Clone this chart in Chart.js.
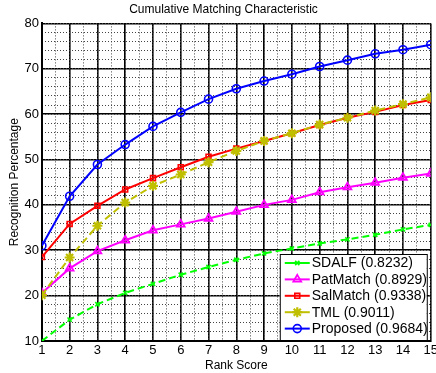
<!DOCTYPE html>
<html>
<head>
<meta charset="utf-8">
<script src="https://cdn.jsdelivr.net/npm/chart.js@4.4.1/dist/chart.umd.min.js"></script>
<style>
  html, body { margin: 0; padding: 0; background: #fff; overflow: hidden; }
  #wrap { width: 440px; height: 373px; position: relative; }
</style>
</head>
<body>
<div id="wrap"><canvas id="cmc"></canvas></div>
<script>
// Rank positions and recognition rates (%) per method
const ranks = [1, 2, 3, 4, 5, 6, 7, 8, 9, 10, 11, 12, 13, 14, 15];
const sdalf    = [10.0, 14.7, 18.1, 20.6, 22.6, 24.6, 26.3, 27.9, 29.3, 30.4, 31.5, 32.4, 33.4, 34.6, 35.6];
const patMatch = [20.6, 26.0, 29.8, 32.2, 34.4, 35.7, 37.0, 38.5, 40.0, 41.1, 42.8, 43.9, 44.9, 46.0, 46.9];
const salMatch = [28.5, 35.8, 39.8, 43.4, 45.9, 48.3, 50.6, 52.4, 54.1, 55.8, 57.6, 59.2, 60.5, 62.0, 63.1];
const tml      = [20.1, 28.4, 35.4, 40.5, 44.2, 46.7, 49.4, 51.9, 54.1, 55.8, 57.7, 59.2, 60.8, 62.2, 63.7];
const proposed = [31.0, 41.9, 48.9, 53.3, 57.3, 60.4, 63.3, 65.6, 67.3, 68.8, 70.5, 71.9, 73.3, 74.2, 75.3];
const seriesNames = ['SDALF (0.8232)', 'PatMatch (0.8929)', 'SalMatch (0.9338)', 'TML (0.9011)', 'Proposed (0.9684)'];

const FONT = "'Liberation Sans', Arial, Helvetica, sans-serif";

function pts(values) {
  return values.map((v, i) => ({ x: ranks[i], y: v }));
}

function series(label, values, color, style, radius, dash, order, markerWidth) {
  return {
    label: label,
    data: pts(values),
    borderColor: color,
    backgroundColor: color,
    borderWidth: 2,
    borderDash: dash,
    pointStyle: style,
    pointRadius: radius,
    pointBorderColor: color,
    pointBackgroundColor: 'rgba(0,0,0,0)',
    pointBorderWidth: markerWidth,
    tension: 0,
    fill: false,
    order: order
  };
}

const datasets = [
  series(seriesNames[0], sdalf,    '#00ff00', 'crossRot', 3,   [7, 4], 5, 1.6),
  series(seriesNames[1], patMatch, '#ff00ff', 'triangle', 4.5, [],     4, 1.8),
  series(seriesNames[2], salMatch, '#ff0000', 'rect',     3.5, [],     3, 1.6),
  series(seriesNames[3], tml,      '#bfbf00', 'star',     5,   [7, 4], 2, 2.2),
  series(seriesNames[4], proposed, '#0000ff', 'circle',   4,   [],     1, 1.6)
];

// Legend box drawn in the lower-right corner of the plot area
const boxLegend = {
  id: 'boxLegend',
  afterDraw(chart) {
    const { ctx, chartArea } = chart;
    const w = 147, h = 86;
    const x0 = chartArea.right - 4 - w;
    const y0 = chartArea.bottom - 1 - h;
    ctx.save();
    ctx.fillStyle = '#fff';
    ctx.fillRect(x0, y0, w, h);
    ctx.strokeStyle = '#000';
    ctx.lineWidth = 1;
    ctx.strokeRect(x0 + 0.5, y0 + 0.5, w, h);
    ctx.font = '14px ' + FONT;
    ctx.textBaseline = 'middle';
    const rowH = 16.4;
    chart.data.datasets.forEach((ds, i) => {
      const cy = y0 + 9 + i * rowH;
      ctx.strokeStyle = ds.borderColor;
      ctx.lineWidth = 2;
      ctx.setLineDash([]);
      ctx.beginPath();
      ctx.moveTo(x0 + 5, cy);
      ctx.lineTo(x0 + 30, cy);
      ctx.stroke();
      ctx.lineWidth = ds.pointBorderWidth;
      ctx.fillStyle = 'rgba(0,0,0,0)';
      Chart.helpers.drawPoint(ctx, {
        pointStyle: ds.pointStyle,
        radius: ds.pointRadius,
        rotation: 0,
        borderWidth: ds.pointBorderWidth
      }, x0 + 17.5, cy);
      ctx.fillStyle = '#000';
      ctx.fillText(ds.label, x0 + 32, cy + 0.5);
    });
    ctx.restore();
  }
};

new Chart(document.getElementById('cmc'), {
  type: 'line',
  data: { datasets: datasets },
  plugins: [boxLegend],
  options: {
    responsive: true,
    maintainAspectRatio: false,
    animation: false,
    layout: { padding: { left: 7, right: 0, top: 2, bottom: 0 } },
    plugins: {
      legend: { display: false },
      tooltip: { enabled: false },
      title: {
        display: true,
        text: 'Cumulative Matching Characteristic',
        color: '#000',
        font: { family: FONT, size: 12, weight: 'normal' },
        padding: { top: 0, bottom: 7 }
      }
    },
    scales: {
      x: {
        type: 'linear', position: 'bottom', min: 1, max: 15,
        ticks: { stepSize: 1, autoSkip: false, maxRotation: 0, color: '#000', padding: 2,
                 font: { family: FONT, size: 13 } },
        grid: { color: '#000', lineWidth: 1.6, drawTicks: false },
        border: { display: true, color: '#000', width: 2 },
        title: { display: true, text: 'Rank Score', color: '#000',
                 font: { family: FONT, size: 12 }, padding: { top: -2, bottom: 0 } }
      },
      xMinor: {
        type: 'linear', position: 'bottom', min: 1, max: 15,
        ticks: { display: false, stepSize: 0.5 },
        grid: { color: '#444', lineWidth: 1, drawTicks: false },
        border: { display: false, dash: [1, 2] }
      },
      y: {
        type: 'linear', position: 'left', min: 10, max: 80,
        ticks: { stepSize: 10, color: '#000', padding: 3, font: { family: FONT, size: 13 } },
        grid: { color: '#000', lineWidth: 1.6, drawTicks: false },
        border: { display: true, color: '#000', width: 2 },
        title: { display: true, text: 'Recognition Percentage', color: '#000',
                 font: { family: FONT, size: 12 }, padding: { top: 0, bottom: 0 } }
      },
      yMinor: {
        type: 'linear', position: 'left', min: 10, max: 80,
        ticks: { display: false, stepSize: 2 },
        grid: { color: '#444', lineWidth: 1, drawTicks: false },
        border: { display: false, dash: [1, 2] }
      }
    }
  }
});
</script>
</body>
</html>
